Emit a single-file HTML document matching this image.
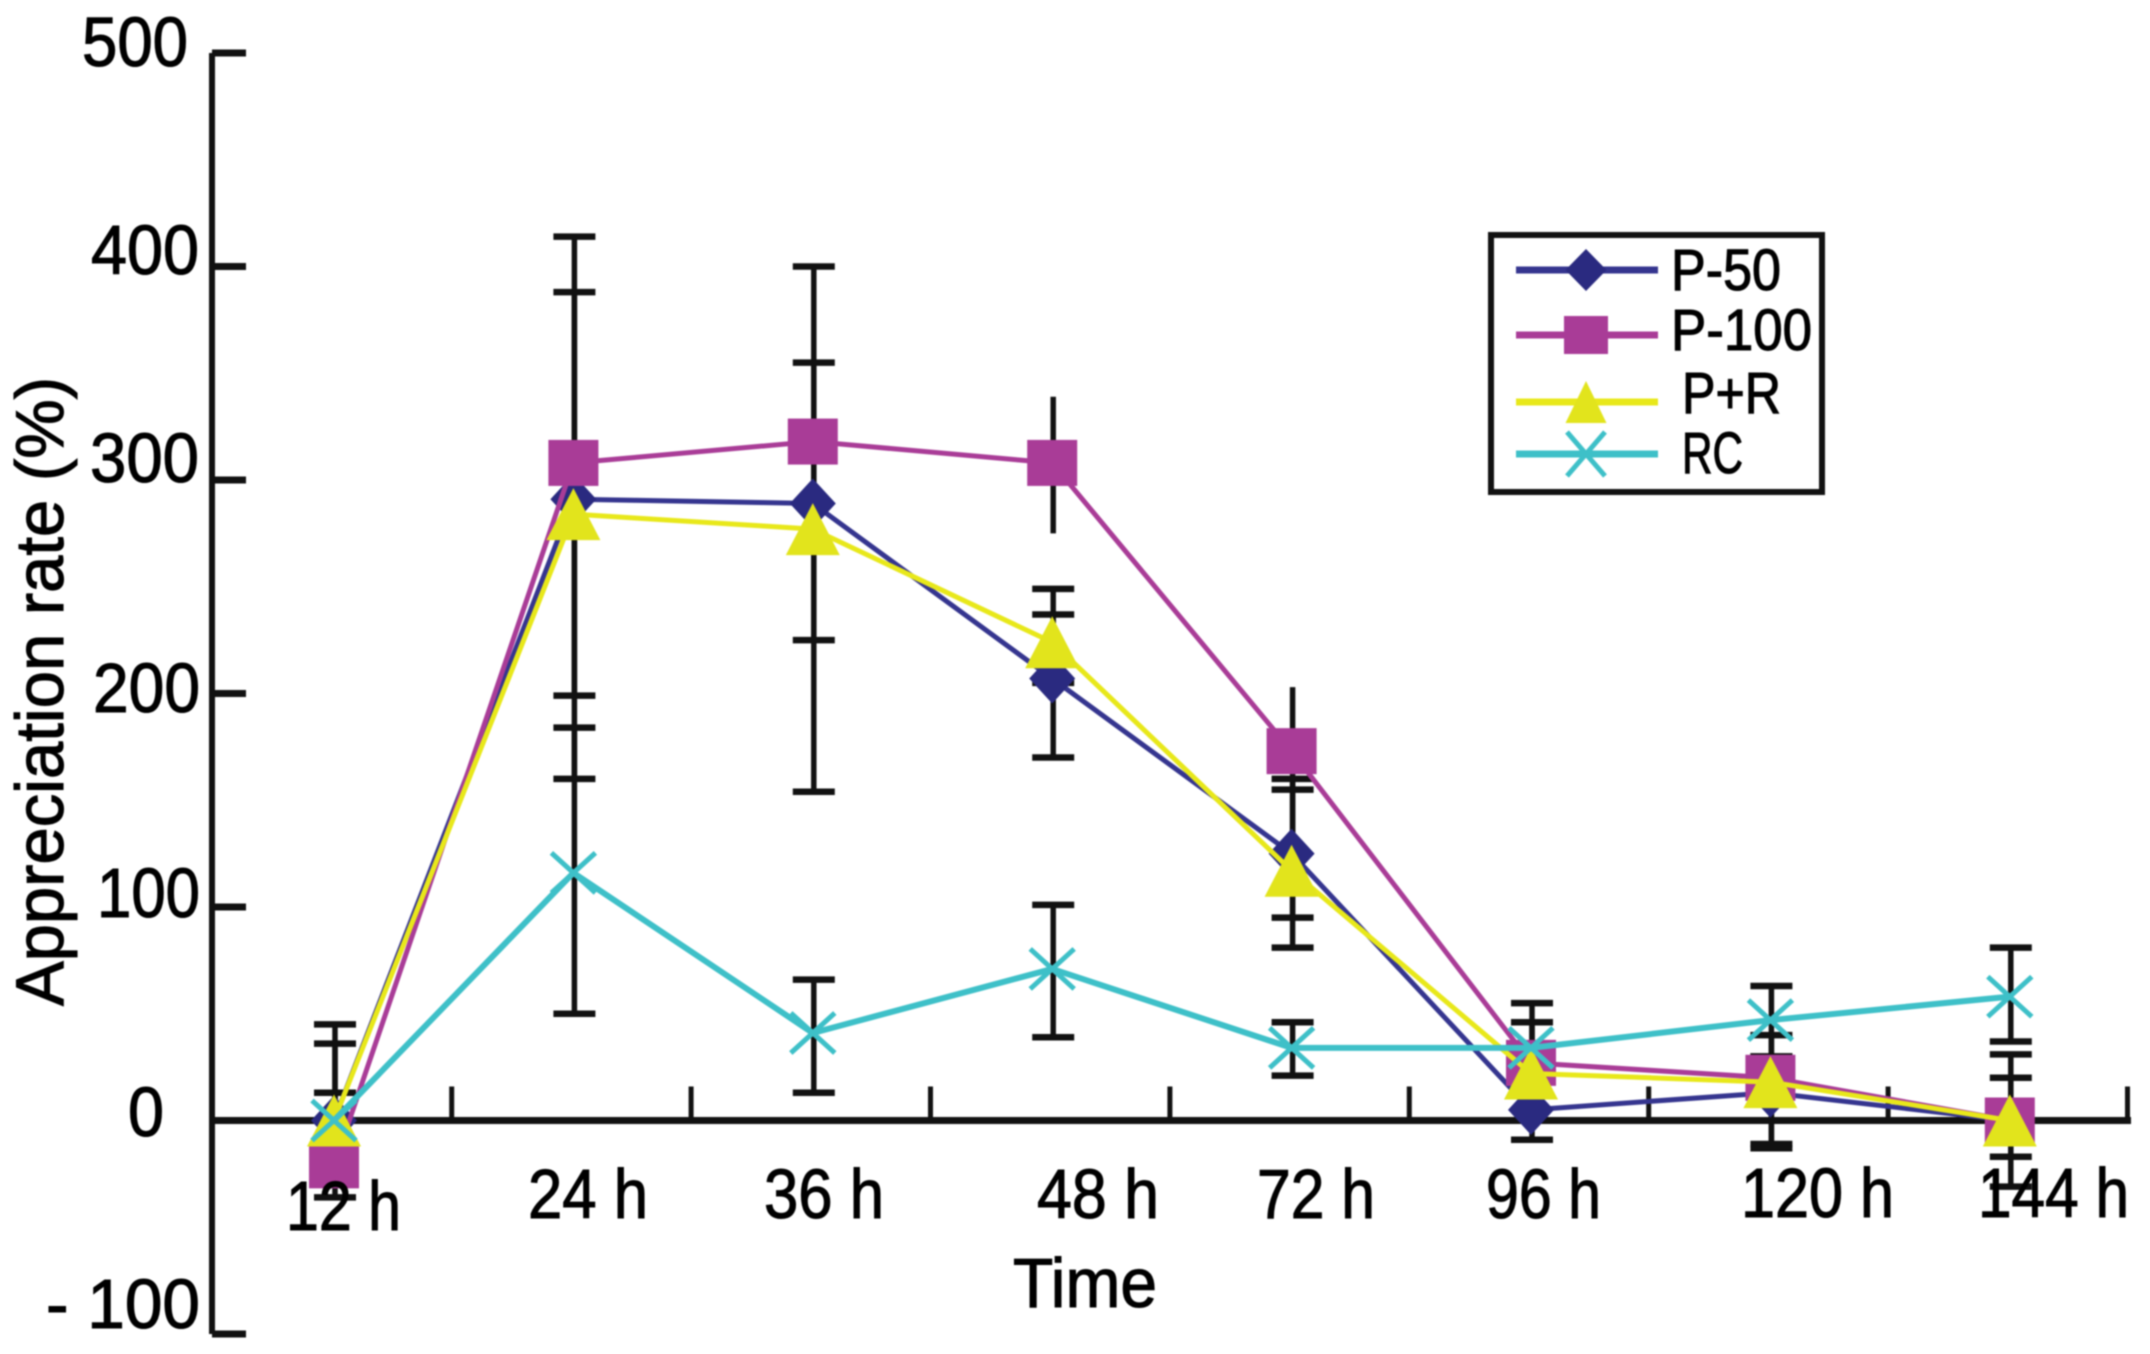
<!DOCTYPE html>
<html>
<head>
<meta charset="utf-8">
<title>Appreciation rate over time</title>
<style>
html,body{margin:0;padding:0;background:#fff;width:2150px;height:1354px;overflow:hidden}
svg{display:block;filter:blur(0.8px)}
text{font-family:"Liberation Sans",sans-serif;fill:#000;stroke:#000;stroke-width:1.1px}
</style>
</head>
<body>
<svg id="chart" xmlns="http://www.w3.org/2000/svg" width="2150" height="1354" viewBox="0 0 2150 1354">
  <rect width="2150" height="1354" fill="#fff"/>
  <g id="axes"></g>
  <g id="bars"></g>
  <g id="marks"></g>

  <g font-size="70">
    <text x="82" y="66" textLength="106" lengthAdjust="spacingAndGlyphs">500</text>
    <text x="91" y="274" textLength="108" lengthAdjust="spacingAndGlyphs">400</text>
    <text x="90" y="482" textLength="109" lengthAdjust="spacingAndGlyphs">300</text>
    <text x="93" y="712" textLength="107" lengthAdjust="spacingAndGlyphs">200</text>
    <text x="97" y="917" textLength="103" lengthAdjust="spacingAndGlyphs">100</text>
    <text x="128" y="1136" textLength="36" lengthAdjust="spacingAndGlyphs">0</text>
    <text x="46" y="1328" textLength="154" lengthAdjust="spacingAndGlyphs">- 100</text>
  </g>

  <g font-size="70">
    <text x="286" y="1230" textLength="115" lengthAdjust="spacingAndGlyphs">12 h</text>
    <text x="528" y="1218" textLength="120" lengthAdjust="spacingAndGlyphs">24 h</text>
    <text x="764" y="1218" textLength="120" lengthAdjust="spacingAndGlyphs">36 h</text>
    <text x="1037" y="1218" textLength="122" lengthAdjust="spacingAndGlyphs">48 h</text>
    <text x="1257" y="1218" textLength="118" lengthAdjust="spacingAndGlyphs">72 h</text>
    <text x="1486" y="1218" textLength="115" lengthAdjust="spacingAndGlyphs">96 h</text>
    <text x="1741" y="1217" textLength="153" lengthAdjust="spacingAndGlyphs">120 h</text>
    <text x="1978" y="1217" textLength="151" lengthAdjust="spacingAndGlyphs">144 h</text>
  </g>

  <text x="1013" y="1307" font-size="70" textLength="144" lengthAdjust="spacingAndGlyphs">Time</text>
  <text transform="translate(63,1006) rotate(-90)" font-size="68" textLength="629" lengthAdjust="spacingAndGlyphs">Appreciation rate (%)</text>

  <g>
    <rect x="1491" y="235" width="331" height="257" fill="#fff" stroke="#111" stroke-width="6"/>
    <g id="legend-keys"></g>
    <text x="1671" y="290" font-size="58" textLength="110" lengthAdjust="spacingAndGlyphs">P-50</text>
    <text x="1671" y="350" font-size="58" textLength="141" lengthAdjust="spacingAndGlyphs">P-100</text>
    <text x="1682" y="413" font-size="58" textLength="99" lengthAdjust="spacingAndGlyphs">P+R</text>
    <text x="1682" y="473" font-size="58" textLength="61" lengthAdjust="spacingAndGlyphs">RC</text>
  </g>
</svg>

<script>
const categories = ['12 h', '24 h', '36 h', '48 h', '72 h', '96 h', '120 h', '144 h'];
const yTicks = [500, 400, 300, 200, 100, 0, -100];

const p50Values = [0, 291, 289, 207, 125, 5, 13, 0];
const p100Values = [-21, 308, 318, 308, 173, 27, 20, 0];
const prValues = [0, 284, 277, 224, 117, 22, 18, 0];
const rcValues = [0, 116, 41, 71, 34, 34, 47, 58];

const p50High = [36, 388, 355, 237, 160, 25, 30, 20];
const p50Low = [-36, 160, 154, 170, 95, -9, -13, -17];
const p100High = [13, 414, 400, 339, 203, 55, 40, 31];
const p100Low = [-20, 199, 225, 275, 155, 0, -11, -31];
const prHigh = [null, null, null, 249, 155, null, null, null];
const prLow = [null, null, null, 205, 81, null, null, null];
const rcHigh = [45, 184, 66, 101, 46, 46, 63, 81];
const rcLow = [-15, 50, 13, 39, 21, 22, 30, 37];

const uncappedBars = ['48 h', '72 h'];

const NS = 'http://www.w3.org/2000/svg';
const xOf = i => 334 + 239.4 * i;
const yOf = v => 1120.5 - 2.135 * v;

function mk(parent, tag, attrs, name) {
  const el = document.createElementNS(NS, tag);
  for (const k in attrs) el.setAttribute(k, attrs[k]);
  
  
  parent.appendChild(el);
  return el;
}

function drawMarker(parent, kind, cx, cy, fill, w, h, name) {
  if (kind === 'diamond') {
    mk(parent, 'polygon', {points: `${cx},${cy - h / 2} ${cx + w / 2},${cy} ${cx},${cy + h / 2} ${cx - w / 2},${cy}`, fill}, name);
  } else if (kind === 'square') {
    mk(parent, 'rect', {x: cx - w / 2, y: cy - h / 2, width: w, height: h, fill}, name);
  } else if (kind === 'triangle') {
    mk(parent, 'polygon', {points: `${cx},${cy - h / 2} ${cx + w / 2},${cy + h / 2} ${cx - w / 2},${cy + h / 2}`, fill}, name);
  } else {
    mk(parent, 'path', {d: `M${cx - w / 2} ${cy - h / 2}L${cx + w / 2} ${cy + h / 2}M${cx + w / 2} ${cy - h / 2}L${cx - w / 2} ${cy + h / 2}`, stroke: fill, 'stroke-width': 5, fill: 'none'}, name);
  }
}

const series = [
  {name: 'p-50', label: 'P-50', values: p50Values, high: p50High, low: p50Low, line: '#35358f', fill: '#2a2a80', kind: 'diamond', w: 46, h: 50, lw: 5, legendY: 270, lkw: 41, lkh: 42},
  {name: 'p-100', label: 'P-100', values: p100Values, high: p100High, low: p100Low, line: '#a93c97', fill: '#a93c97', kind: 'square', w: 50, h: 46, lw: 5, legendY: 335, lkw: 44, lkh: 38},
  {name: 'p-plus-r', label: 'P+R', values: prValues, high: prHigh, low: prLow, line: '#e8e81a', fill: '#e2e41c', kind: 'triangle', w: 54, h: 52, lw: 5, legendY: 402, lkw: 41, lkh: 42},
  {name: 'rc', label: 'RC', values: rcValues, high: rcHigh, low: rcLow, line: '#3ec0c8', fill: '#3ec0c8', kind: 'x', w: 44, h: 40, lw: 6, legendY: 454, lkw: 38, lkh: 44}
];

/* axes */
const axes = document.getElementById('axes');
mk(axes, 'line', {x1: 212, y1: yOf(500), x2: 212, y2: yOf(-100), stroke: '#111', 'stroke-width': 6}, 'y-axis-line');
mk(axes, 'line', {x1: 212, y1: yOf(0), x2: 2131, y2: yOf(0), stroke: '#111', 'stroke-width': 7}, 'x-axis-line');
yTicks.forEach(v => {
  mk(axes, 'line', {x1: 212, y1: yOf(v), x2: 246, y2: yOf(v), stroke: '#111', 'stroke-width': 7}, 'y-tick-' + v);
});
categories.forEach((c, i) => {
  const tx = xOf(i) + 119.7 - 2;
  mk(axes, 'line', {x1: tx, y1: yOf(0), x2: tx, y2: yOf(0) - 34, stroke: '#111', 'stroke-width': 5}, 'x-tick-' + i);
});

/* error bars */
const barLayer = document.getElementById('bars');
series.forEach(s => {
  categories.forEach((c, i) => {
    if (s.high[i] === null) return;
    const x = xOf(i) + 1;
    const yh = yOf(s.high[i]);
    const yl = yOf(s.low[i]);
    mk(barLayer, 'line', {x1: x, y1: yh, x2: x, y2: yl, stroke: '#111', 'stroke-width': 5.5}, 'error-bar-' + s.name + '-' + i);
    if (s.name === 'p-100' && uncappedBars.includes(c)) return;
    mk(barLayer, 'line', {x1: x - 21, y1: yh, x2: x + 21, y2: yh, stroke: '#111', 'stroke-width': 6.5}, 'error-cap-high-' + s.name + '-' + i);
    mk(barLayer, 'line', {x1: x - 21, y1: yl, x2: x + 21, y2: yl, stroke: '#111', 'stroke-width': 6.5}, 'error-cap-low-' + s.name + '-' + i);
  });
});

/* series */
const markLayer = document.getElementById('marks');
series.forEach(s => {
  const pts = s.values.map((v, i) => xOf(i) + ',' + yOf(v)).join(' ');
  mk(markLayer, 'polyline', {points: pts, fill: 'none', stroke: s.line, 'stroke-width': s.lw, 'stroke-linejoin': 'round'}, 'line-' + s.name);
  s.values.forEach((v, i) => {
    drawMarker(markLayer, s.kind, xOf(i), yOf(v), s.fill, s.w, s.h, 'point-' + s.name + '-' + i);
  });
});

/* legend keys */
const legendKeys = document.getElementById('legend-keys');
series.forEach(s => {
  mk(legendKeys, 'line', {x1: 1516, y1: s.legendY, x2: 1658, y2: s.legendY, stroke: s.line, 'stroke-width': 7}, 'legend-line-' + s.name);
  drawMarker(legendKeys, s.kind, 1586, s.legendY, s.fill, s.lkw, s.lkh, 'legend-marker-' + s.name);
});
</script>
</body>
</html>
